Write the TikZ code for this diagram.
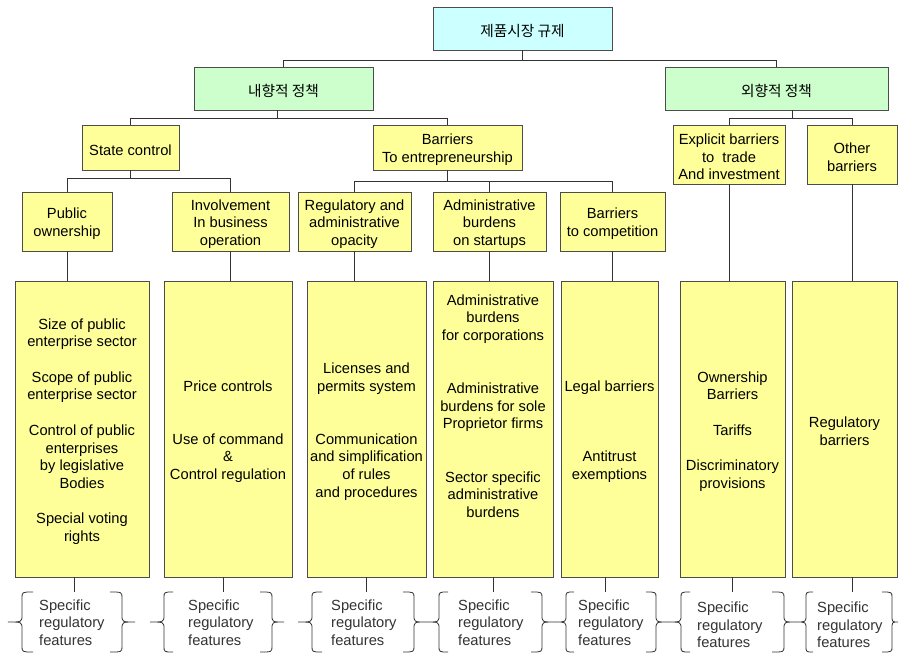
\documentclass[tikz,border=0pt]{standalone}
\usepackage{fontspec}
\setmainfont{Liberation Sans}
\newfontfamily\krfont{Noto Sans CJK KR}
\usetikzlibrary{shadows,calc}
\definecolor{yel}{HTML}{FFFF99}
\definecolor{grn}{HTML}{CCFFCC}
\definecolor{cyn}{HTML}{CCFFFF}
\definecolor{ln}{HTML}{333333}
\newcommand\BrX[3]{\draw[brc] (#1,592) .. controls (#2,592) .. (#2,598) -- (#2,615) .. controls (#2,622) .. (#3,622) .. controls (#2,622) .. (#2,629) -- (#2,646) .. controls (#2,652) .. (#1,652);}
\begin{document}
\begin{tikzpicture}[x=1pt,y=-1pt,
  every node/.style={font=\fontsize{14.7}{17.7}\selectfont},
  box/.style={draw=black!70, line width=0.6pt, inner sep=0pt, fill=yel,
    drop shadow={shadow xshift=1pt, shadow yshift=-1pt, fill=black!75, opacity=1}},
  txt/.style={align=center, inner sep=0pt, yshift=-2.5pt},
  T/.style={label={[txt]center:{#1}}},
  conn/.style={draw=ln, line width=0.8pt},
  brc/.style={draw=black!80, line width=0.8pt},
  ftxt/.style={anchor=west, align=left, inner sep=0pt, text=black!80}]
\fill[white] (0,0) rectangle (899,653);
\useasboundingbox (0,0) rectangle (899,653);
% level 0 and 1
\node[box, fill=cyn, minimum width=179pt, minimum height=43pt, T={\krfont 제품시장 규제}] (top) at (522.5,28.5) {};
\node[box, fill=grn, minimum width=179pt, minimum height=43pt, T={\krfont 내향적 정책}] (gL) at (283.5,88.5) {};
\node[box, fill=grn, minimum width=223pt, minimum height=43pt, T={\krfont 외향적 정책}] (gR) at (776.5,88.5) {};
% level 2
\node[box, minimum width=97pt, minimum height=45pt, T={State control}] (sc) at (130.5,147.5) {};
\node[box, minimum width=149pt, minimum height=45pt, T={Barriers\\To entrepreneurship}] (bte) at (447.5,147.5) {};
\node[box, minimum width=112pt, minimum height=59pt, T={Explicit barriers\\to\ \ trade\\And investment}] (ebt) at (729,154.5) {};
\node[box, minimum width=90pt, minimum height=59pt, T={Other\\barriers}] (ob) at (852,154.5) {};
% level 3
\node[box, minimum width=90pt, minimum height=59pt, T={Public\\ownership}] (po) at (67,221.5) {};
\node[box, minimum width=117pt, minimum height=59pt, T={Involvement\\In business\\operation}] (ib) at (230.5,221.5) {};
\node[box, minimum width=113pt, minimum height=59pt, T={Regulatory and\\administrative\\opacity}] (rao) at (354.5,221.5) {};
\node[box, minimum width=113pt, minimum height=59pt, T={Administrative\\burdens\\on startups}] (ab) at (489.5,221.5) {};
\node[box, minimum width=105pt, minimum height=59pt, T={Barriers\\to competition}] (btc) at (612.5,221.5) {};
% big boxes
\node[box, minimum width=134pt, minimum height=296pt, T={Size of public\\enterprise sector\\[17.7pt]Scope of public\\enterprise sector\\[17.7pt]Control of public\\enterprises\\by legislative\\Bodies\\[17.7pt]Special voting\\rights}] (b1) at (82,429) {};
\node[box, minimum width=128pt, minimum height=296pt, T={Price controls\\[35.4pt]Use of command\\\&\\Control regulation}] (b2) at (228,429) {};
\node[box, minimum width=119pt, minimum height=296pt, T={Licenses and\\permits system\\[35.4pt]Communication\\and simplification\\of rules\\and procedures}] (b3) at (366.5,429) {};
\node[box, minimum width=120pt, minimum height=296pt] (b4) at (493,429) {};
\node[align=center, inner sep=0pt] (b4t) at ([yshift=23pt]b4.center) {Administrative\\burdens\\for corporations\\[35.4pt]Administrative\\burdens for sole\\Proprietor firms\\[35.4pt]Sector specific\\administrative\\burdens};
\node[box, minimum width=97pt, minimum height=296pt, T={Legal barriers\\[53.1pt]Antitrust\\exemptions}] (b5) at (609.5,429) {};
\node[box, minimum width=105pt, minimum height=296pt, T={Ownership\\Barriers\\[17.7pt]Tariffs\\[17.7pt]Discriminatory\\provisions}] (b6) at (732.5,429) {};
\node[box, minimum width=105pt, minimum height=296pt, T={Regulatory\\barriers}] (b7) at (844.5,429) {};
% bottom texts
\node[ftxt] (f1) at (39,622.5) {Specific\\regulatory\\features};
\node[ftxt] (f2) at (188,622.5) {Specific\\regulatory\\features};
\node[ftxt] (f3) at (331,622.5) {Specific\\regulatory\\features};
\node[ftxt] (f4) at (458,622.5) {Specific\\regulatory\\features};
\node[ftxt] (f5) at (578,622.5) {Specific\\regulatory\\features};
\node[ftxt] (f6) at (697,625) {Specific\\regulatory\\features};
\node[ftxt] (f7) at (817,625) {Specific\\regulatory\\features};
% connectors
\coordinate (bus0) at (0,60);
\coordinate (bus1) at (0,118);
\coordinate (bus2) at (0,178);
\coordinate (bus3) at (0,181);
\coordinate (bus4) at (0,592);
\draw[conn] (top.south) -- (top.south |- bus0);
\draw[conn] (gL.north) -- (gL.north |- bus0) -- (gR.north |- bus0) -- (gR.north);
\coordinate (gLs) at ([xshift=-6.5pt]gL.south);
\coordinate (gRs) at ([xshift=15.5pt]gR.south);
\draw[conn] (gLs) -- (gLs |- bus1);
\draw[conn] (sc.north) -- (sc.north |- bus1) -- (bte.north |- bus1) -- (bte.north);
\draw[conn] (gRs) -- (gRs |- bus1);
\draw[conn] (ebt.north) -- (ebt.north |- bus1) -- (ob.north |- bus1) -- (ob.north);
\draw[conn] (sc.south) -- (sc.south |- bus2);
\draw[conn] (po.north) -- (po.north |- bus2) -- (ib.north |- bus2) -- (ib.north);
\draw[conn] (bte.south) -- (bte.south |- bus3);
\draw[conn] (rao.north) -- (rao.north |- bus3) -- (btc.north |- bus3) -- (btc.north);
\draw[conn] (ab.north) -- (ab.north |- bus3);
\draw[conn] (po.south) -- (po.south |- b1.north);
\draw[conn] (ib.south) -- (ib.south |- b2.north);
\draw[conn] (rao.south) -- (rao.south |- b3.north);
\draw[conn] (ab.south) -- (ab.south |- b4.north);
\draw[conn] (btc.south) -- (btc.south |- b5.north);
\draw[conn] (ebt.south) -- (ebt.south |- b6.north);
\draw[conn] (ob.south) -- (ob.south |- b7.north);
\coordinate (b1s) at ([xshift=-8pt]b1.south);
\coordinate (b2s) at ([xshift=-5pt]b2.south);
\coordinate (b5s) at ([xshift=-4.5pt]b5.south);
\coordinate (b7s) at ([xshift=7.5pt]b7.south);
\draw[conn] (b1s) -- (b1s |- bus4);
\draw[conn] (b2s) -- (b2s |- bus4);
\draw[conn] (b3.south) -- (b3.south |- bus4);
\draw[conn] (b4.south) -- (b4.south |- bus4);
\draw[conn] (b5s) -- (b5s |- bus4);
\draw[conn] (b6.south) -- (b6.south |- bus4);
\draw[conn] (b7s) -- (b7s |- bus4);
% braces
\BrX{33}{22}{8}
\BrX{110}{122}{135}
\BrX{173}{164}{150}
\BrX{260}{272}{284}
\BrX{322}{312}{298}
\BrX{403}{414}{426}
\BrX{448}{439}{426}
\BrX{531}{542}{555}
\BrX{574}{566}{555}
\BrX{646}{656}{668}
\BrX{690}{681}{668}
\BrX{772}{784}{796}
\BrX{813}{806}{796}
\BrX{882}{892}{898}
\end{tikzpicture}
\end{document}
